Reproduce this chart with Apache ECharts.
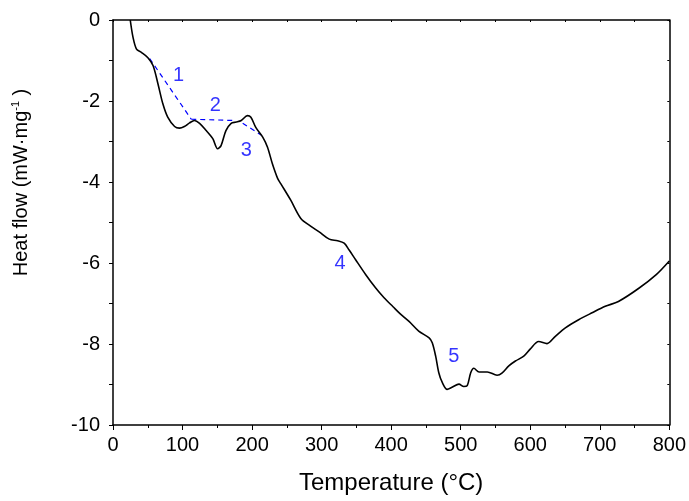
<!DOCTYPE html>
<html>
<head>
<meta charset="utf-8">
<script src="https://cdn.jsdelivr.net/npm/echarts@6/dist/echarts.min.js"></script>
<style>html,body{margin:0;padding:0;background:#fff}#c{width:689px;height:501px}</style>
</head>
<body>
<div id="c"></div>
<script>
// Temperature (°C)
var temps = [24.8,28.8,33.8,40.8,50.2,57.7,64.7,71.7,78.7,88.6,95.6,102.6,110.1,117.1,124.5,134,143.5,150.4,155.4,162.4,169.9,177,184.4,193.3,198.3,205.3,215.3,222.2,229.2,236.7,241.2,255.6,270.1,284.1,296.5,311,323,332.4,339.6,348.9,363.5,377.8,389.8,402.7,412.7,425.7,439.6,454.6,459.1,464,468.5,473.5,480.5,487.5,497.5,504.4,509.4,514.4,518.9,526.4,538.3,552.3,559.3,569.2,578.7,590.7,600.2,612.1,624.1,636.1,650.5,669.6,688.9,707.9,726.8,755.7,781.6,800];
// Heat flow (mW·mg-1)
var heat = [0,-0.43,-0.72,-0.8,-0.93,-1.13,-1.58,-2.07,-2.40,-2.63,-2.67,-2.63,-2.54,-2.48,-2.55,-2.73,-2.93,-3.18,-3.1,-2.73,-2.55,-2.52,-2.48,-2.36,-2.40,-2.65,-2.89,-3.14,-3.55,-3.91,-4.04,-4.45,-4.90,-5.09,-5.23,-5.41,-5.45,-5.51,-5.68,-5.92,-6.29,-6.62,-6.86,-7.08,-7.25,-7.44,-7.68,-7.85,-7.97,-8.30,-8.71,-8.95,-9.12,-9.07,-8.99,-9.05,-9.03,-8.71,-8.6,-8.69,-8.69,-8.77,-8.72,-8.54,-8.42,-8.30,-8.12,-7.94,-7.99,-7.81,-7.60,-7.40,-7.23,-7.07,-6.95,-6.63,-6.28,-5.95];
// dashed baselines
var base1T = [52.7,112.5], base1H = [-0.95,-2.45];
var base2T = [112.5,172], base2H = [-2.45,-2.48];
var base3T = [186.5,213], base3H = [-2.55,-2.84];
// peak labels
var peakNames = ['1','2','3','4','5'];
var peakT = [94.3,147.3,191.8,326.6,490];
var peakH = [-1.36,-2.12,-3.21,-6.0,-8.30];
var xTicks = [0,100,200,300,400,500,600,700,800];
var yTicks = [0,-2,-4,-6,-8,-10];

function pairs(a,b){return a.map(function(v,i){return [v,b[i]];});}

var chart = echarts.init(document.getElementById('c'), null, {renderer:'canvas'});
var FONT = 'Liberation Sans, Arial, sans-serif';
var BLUE = '#0000ff';
var dashStyle = {color:BLUE, width:1.2, type:[5,4]};
chart.setOption({
  animation:false,
  backgroundColor:'#fff',
  grid:{left:113,right:18,top:20,bottom:76,containLabel:false},
  xAxis:[{
    type:'value',min:xTicks[0],max:xTicks[xTicks.length-1],interval:100,
    position:'bottom',
    name:'Temperature (°C)',nameLocation:'middle',nameGap:46,
    nameTextStyle:{fontSize:24,color:'#000',fontFamily:FONT},
    axisLine:{show:true,onZero:false,lineStyle:{color:'#000',width:1.5}},
    axisTick:{show:true,inside:false,length:5,lineStyle:{color:'#000',width:1}},
    minorTick:{show:true,splitNumber:2,length:3,lineStyle:{color:'#000',width:1}},
    axisLabel:{fontSize:20,color:'#000',fontFamily:FONT,margin:10},
    splitLine:{show:false}
  },{
    type:'value',min:0,max:800,interval:50,position:'top',
    axisLine:{show:true,onZero:false,lineStyle:{color:'#000',width:1.5}},
    axisTick:{show:true,inside:true,length:2,lineStyle:{color:'#000',width:1}},
    axisLabel:{show:false},splitLine:{show:false}
  }],
  yAxis:[{
    type:'value',min:yTicks[yTicks.length-1],max:yTicks[0],interval:2,position:'left',
    name:'Heat flow (mW·mg{sup|-1} )',nameLocation:'middle',nameGap:80,nameRotate:90,
    nameTextStyle:{fontSize:20,color:'#000',fontFamily:FONT,padding:[0,0,0,80],
      rich:{sup:{fontSize:11,fontFamily:FONT,color:'#000',padding:[0,0,12,0]}}},
    axisLine:{show:true,onZero:false,lineStyle:{color:'#000',width:1.5}},
    axisTick:{show:true,inside:false,length:4,lineStyle:{color:'#000',width:1}},
    minorTick:{show:true,splitNumber:2,length:4,lineStyle:{color:'#000',width:1}},
    axisLabel:{fontSize:20,color:'#000',fontFamily:FONT,margin:13},
    splitLine:{show:false}
  },{
    type:'value',min:-10,max:0,interval:1,position:'right',
    axisLine:{show:true,onZero:false,lineStyle:{color:'#000',width:1.5}},
    axisTick:{show:true,inside:true,length:2,lineStyle:{color:'#000',width:1}},
    axisLabel:{show:false},splitLine:{show:false}
  }],
  series:[{
    type:'line',data:pairs(temps,heat),smooth:0.3,showSymbol:false,
    lineStyle:{color:'#000',width:1.6},z:5
  },{
    type:'line',data:pairs(base1T,base1H),showSymbol:false,lineStyle:dashStyle
  },{
    type:'line',data:pairs(base2T,base2H),showSymbol:false,lineStyle:dashStyle
  },{
    type:'line',data:pairs(base3T,base3H),showSymbol:false,lineStyle:dashStyle
  },{
    type:'scatter',data:pairs(peakT,peakH).map(function(p,i){return {value:p,name:peakNames[i]};}),
    symbolSize:0,
    label:{show:true,position:'inside',formatter:function(p){return p.name;},
      fontSize:20,color:BLUE,fontFamily:FONT}
  }]
});
</script>
</body>
</html>
